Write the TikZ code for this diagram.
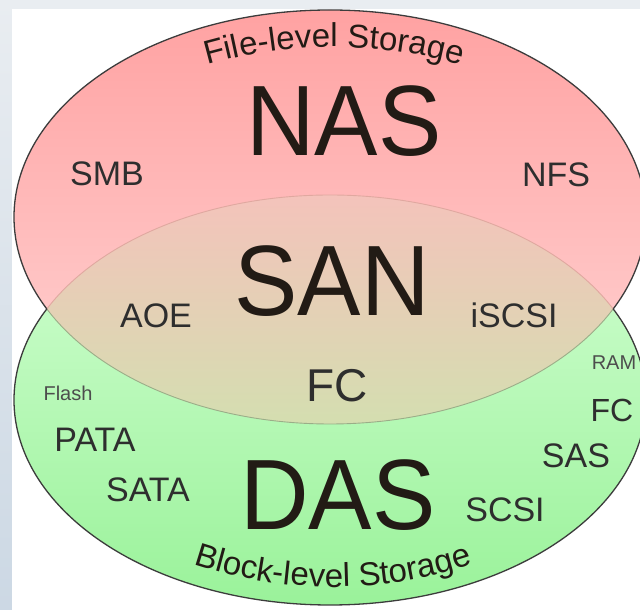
\documentclass[tikz,border=0pt]{standalone}
\usepackage{fontspec}
\setmainfont{Liberation Sans}
\usetikzlibrary{decorations.text}

\definecolor{frametop}{HTML}{E9EDF1}
\definecolor{framebot}{HTML}{CCD8E4}
\definecolor{redtop}{HTML}{FFA2A2}
\definecolor{redbot}{HTML}{FFD4D4}
\definecolor{greentop}{HTML}{D4FFD4}
\definecolor{greenbot}{HTML}{9AF29A}
\definecolor{mixtop}{HTML}{F4C3BB}
\definecolor{mixmid}{HTML}{E6D0B8}
\definecolor{mixbot}{HTML}{D4DEB0}
\definecolor{rim}{HTML}{3C3C3C}
\definecolor{rimred}{HTML}{E0A8A0}
\definecolor{rimgreen}{HTML}{9AAE88}
\definecolor{ink}{HTML}{221B15}
\definecolor{labelc}{HTML}{2E2E2E}

\tikzset{
  big/.style={font=\fontsize{100}{100}\selectfont, text=ink, inner sep=0pt, anchor=base, xscale=0.95},
  lab/.style={font=\fontsize{34}{34}\selectfont, text=labelc, inner sep=0pt, anchor=base},
  mid/.style={font=\fontsize{46}{46}\selectfont, text=labelc, inner sep=0pt, anchor=base},
  small/.style={font=\fontsize{20}{20}\selectfont, text=labelc!85, inner sep=0pt, anchor=base},
  outline/.style={rim, line width=1.3pt},
}

% the two storage sets
\def\redset{(330,393) ellipse[x radius=316pt, y radius=207pt]}
\def\greenset{(330,210) ellipse[x radius=316pt, y radius=205pt]}
% a clockwise frame round everything, used to cut holes
\def\bigframe{(-20,-20) -- (-20,630) -- (660,630) -- (660,-20) -- cycle}

\begin{document}
\begin{tikzpicture}[x=1pt, y=1pt]
\useasboundingbox (0,0) rectangle (640,610);

% window frame and white panel
\shade[top color=frametop, bottom color=framebot] (0,0) rectangle (640,610);
\fill[white] (12,0) rectangle (640,601);

\coordinate (redc) at (330,393);
\coordinate (greenc) at (330,210);

% fills
\shade[top color=greentop, bottom color=greenbot] \greenset;
\shade[top color=redtop, bottom color=redbot] \redset;
\begin{scope}
  \clip \redset;
  \clip \greenset;
  \shade[top color=mixtop, middle color=mixmid, bottom color=mixbot] (0,186) rectangle (640,415);
\end{scope}

% faint inner arcs
\begin{scope}
  \clip \greenset;
  \draw[rimgreen, line width=0.9pt] \redset;
\end{scope}
\begin{scope}
  \clip \redset;
  \draw[rimred, line width=0.9pt] \greenset;
\end{scope}

% dark outer arcs
\begin{scope}[even odd rule]
  \clip \bigframe \greenset;
  \draw[outline] \redset;
\end{scope}
\begin{scope}[even odd rule]
  \clip \bigframe \redset;
  \draw[outline] \greenset;
\end{scope}

% curved captions
\path[decorate, decoration={text along path, text align=center,
    text={|\fontsize{33}{33}\selectfont\color{ink}|File-level Storage}}]
  (334,106) ++(118:457pt) arc[start angle=118, end angle=62, radius=457pt];
\path[decorate, decoration={text along path, text align=center,
    text={|\fontsize{33}{33}\selectfont\color{ink}|Block-level Storage}}]
  (333,461) ++(242:438pt) arc[start angle=242, end angle=298, radius=438pt];

% set names
\node[big] (nas) at (344,454) {NAS};
\node[big] (san) at (332,294) {SAN};
\node[big] (das) at (338,80) {DAS};

% protocols
\node[lab] (smb) at (107,424) {SMB};
\node[lab] (nfs) at (556,423) {NFS};
\node[lab] (aoe) at (156,282) {AOE};
\node[lab] (iscsi) at (514,282) {iSCSI};
\node[mid] (fcsan) at (337,208) {FC};
\node[small] (flash) at (68,209) {Flash};
\node[small] (ram) at (614,240) {RAM};
\node[lab, font=\fontsize{32}{32}\selectfont] (fcdas) at (612,188) {FC};
\node[lab] (pata) at (95,158) {PATA};
\node[lab] (sas) at (576,142) {SAS};
\node[lab] (sata) at (148,108) {SATA};
\node[lab] (scsi) at (505,88) {SCSI};
\end{tikzpicture}
\end{document}
